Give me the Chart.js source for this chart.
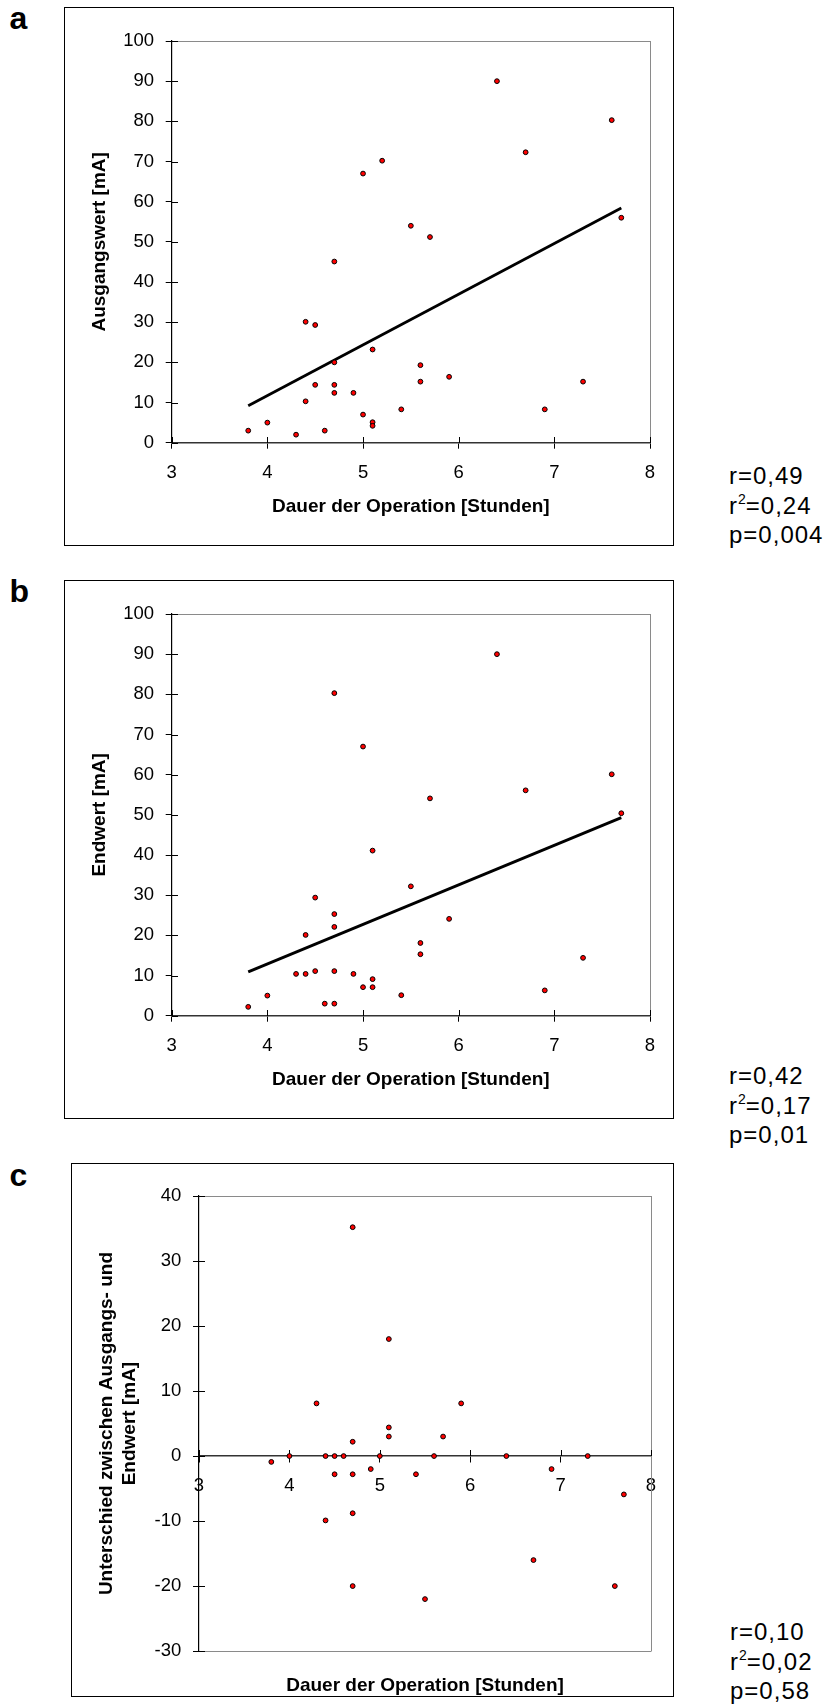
<!DOCTYPE html>
<html lang="de">
<head>
<meta charset="utf-8">
<title>Dauer der Operation – Ausgangswert, Endwert und Unterschied</title>
<script src="https://cdn.jsdelivr.net/npm/chart.js@4.4.1/dist/chart.umd.min.js"></script>
<style>
  html, body { margin: 0; padding: 0; background: #fff; }
  body { position: relative; width: 829px; height: 1706px; overflow: hidden;
         font-family: 'Liberation Sans', Arial, sans-serif; color: #000; }
  .frame { position: absolute; border: 1px solid #000; box-sizing: border-box; pointer-events: none; }
  canvas { position: absolute; }
  .tag { position: absolute; font: bold 32px/32px 'Liberation Sans', Arial, sans-serif; }
  .stats { position: absolute; font: 24px/29.5px 'Liberation Sans', Arial, sans-serif; letter-spacing: 1px; white-space: nowrap; }
  .stats .sq { font-size: 14px; position: relative; top: -9.5px; line-height: 0; letter-spacing: 0; }
</style>
</head>
<body>

<canvas id="chartA" width="610" height="539" style="left:64px;top:7px"></canvas>
<div class="frame" style="left:64px;top:7px;width:610px;height:539px"></div>
<div class="tag" style="left:9.5px;top:2px">a</div>
<div class="stats" style="left:729px;top:461px">r=0,49<br>r<span class="sq">2</span>=0,24<br>p=0,004</div>

<canvas id="chartB" width="610" height="539" style="left:64px;top:580px"></canvas>
<div class="frame" style="left:64px;top:580px;width:610px;height:539px"></div>
<div class="tag" style="left:9.5px;top:575px">b</div>
<div class="stats" style="left:729px;top:1061px">r=0,42<br>r<span class="sq">2</span>=0,17<br>p=0,01</div>

<canvas id="chartC" width="603" height="534" style="left:71px;top:1163px"></canvas>
<div class="frame" style="left:71px;top:1163px;width:603px;height:534px"></div>
<div class="tag" style="left:9.5px;top:1159px">c</div>
<div class="stats" style="left:730px;top:1617px">r=0,10<br>r<span class="sq">2</span>=0,02<br>p=0,58</div>

<script>
// Dauer der Operation [Stunden] und Ausgangswert [mA]
const dauerA = [3.8, 4.0, 4.3, 4.6, 4.4, 4.4, 4.5, 4.5, 4.7, 4.7, 4.7, 4.7, 4.9, 5.0, 5.0, 5.1,
                5.1, 5.1, 5.2, 5.4, 5.5, 5.6, 5.6, 5.7, 5.9, 6.4, 6.7, 6.9, 7.3, 7.6, 7.7];
const ausgangswert = [3, 5, 2, 3, 10.3, 30.1, 29.3, 14.4, 45.1, 20, 14.4, 12.4, 12.4, 67, 7, 23.2,
                      5.1, 4.2, 70.2, 8.3, 54, 19.3, 15.2, 51.2, 16.4, 90, 72.3, 8.3, 15.2, 80.3, 56];

// Dauer der Operation [Stunden] und Endwert [mA]
const dauerB = [3.8, 4.0, 4.3, 4.4, 4.4, 4.5, 4.5, 4.6, 4.7, 4.7, 4.7, 4.7, 4.7, 4.9, 5.0, 5.0,
                5.1, 5.1, 5.1, 5.4, 5.5, 5.6, 5.6, 5.7, 5.9, 6.4, 6.7, 6.9, 7.3, 7.6, 7.7];
const endwert = [2.2, 5, 10.4, 10.4, 20.1, 11.1, 29.4, 3, 3, 11.1, 22.1, 25.3, 80.3, 10.4, 7.1, 67,
                 7.1, 9.1, 41.1, 5.1, 32.2, 15.3, 18.1, 54.1, 24.1, 90, 56.1, 6.3, 14.4, 60.1, 50.4];

// Dauer der Operation [Stunden] und Unterschied zwischen Ausgangs- und Endwert [mA]
const dauerC = [3.8, 4.0, 4.3, 4.4, 4.4, 4.5, 4.5, 4.6, 4.7, 4.7, 4.7, 4.7, 4.7, 4.9, 5.0,
                5.1, 5.1, 5.1, 5.4, 5.5, 5.6, 5.7, 5.9, 6.4, 6.7, 6.9, 7.3, 7.6, 7.7];
const unterschied = [-0.9, 0, 8.1, 0, -9.9, 0, -2.8, 0, 35.2, 2.2, -2.8, -8.8, -20, -2, 0,
                     18, 4.4, 3, -2.8, -22, 0, 3, 8.1, 0, -16, -2, 0, -20, -5.9];

// Regressionsgeraden (Endpunkte über den Wertebereich der Dauer)
const trendDauer = [3.8, 7.7];
const trendAusgangswert = [9.2, 58.4];
const trendEndwert = [10.9, 49.3];

// Achsenteilung
const xTicks = [3, 4, 5, 6, 7, 8];
const yTicksAB = [0, 10, 20, 30, 40, 50, 60, 70, 80, 90, 100];
const yTicksC = [-30, -20, -10, 0, 10, 20, 30, 40];

const FONT = "'Liberation Sans', Arial, sans-serif";
Chart.defaults.font.family = FONT;
Chart.defaults.color = '#000';

const TICK = 6;

const pairs = (xs, ys) => xs.map((x, i) => ({ x, y: ys[i] }));

// Inner half of the crossing tick marks and the grey plot-area frame
const plotFrame = {
  id: 'plotFrame',
  beforeDatasetsDraw(chart, args, opts) {
    const { ctx, chartArea: a, scales: { x, y } } = chart;
    const L = Math.round(a.left), R = Math.round(a.right);
    const T = Math.round(a.top), B = Math.round(a.bottom);
    ctx.save();
    ctx.lineWidth = 1;
    ctx.strokeStyle = '#8a8a8a';
    ctx.beginPath();
    ctx.moveTo(L, T + 0.5); ctx.lineTo(R + 0.5, T + 0.5);
    ctx.moveTo(R + 0.5, T); ctx.lineTo(R + 0.5, B);
    if (opts.closeBottom) { ctx.moveTo(L, B + 0.5); ctx.lineTo(R + 0.5, B + 0.5); }
    ctx.stroke();

    ctx.strokeStyle = '#000';
    ctx.beginPath();
    const axisY = Math.round(y.getPixelForValue(opts.xAxisAt));
    x.ticks.forEach(t => {
      const px = Math.round(x.getPixelForValue(t.value)) + 0.5;
      ctx.moveTo(px, axisY - TICK); ctx.lineTo(px, axisY);
    });
    y.ticks.forEach(t => {
      const py = Math.round(y.getPixelForValue(t.value)) + 0.5;
      ctx.moveTo(L, py); ctx.lineTo(L + TICK, py);
    });
    ctx.stroke();
    ctx.restore();
  }
};

function pointSet(data) {
  return {
    data, order: 0,
    pointRadius: 2.4, pointHoverRadius: 2.4,
    pointBackgroundColor: '#ff0000', pointBorderColor: '#000', pointBorderWidth: 1
  };
}

function trendSet(xs, ys) {
  return {
    data: pairs(xs, ys), order: 1, showLine: true,
    borderColor: '#000', borderWidth: 2.8, pointRadius: 0, borderCapStyle: 'butt'
  };
}

function axisCommon() {
  return {
    type: 'linear',
    grid: { drawOnChartArea: false, drawTicks: true, tickLength: TICK, color: '#000', lineWidth: 1 }
  };
}

function makeChart(id, cfg) {
  const xScale = Object.assign(axisCommon(), {
    min: 3, max: 8,
    position: cfg.xPosition,
    border: { display: true, color: '#333', width: 1.5 },
    afterBuildTicks: s => { s.ticks = xTicks.map(v => ({ value: v })); },
    afterFit: s => { s.height = cfg.xHeight; },
    ticks: { padding: 12.9, font: { size: 18.5 }, color: '#000', maxRotation: 0, autoSkip: false,
             callback: v => String(v) },
    title: cfg.xTitle
      ? { display: true, text: cfg.xTitle, color: '#000', font: { size: 19, weight: 'bold' },
          padding: { top: 0, bottom: 27.6 } }
      : { display: false }
  });
  const yScale = Object.assign(axisCommon(), {
    min: cfg.yMin, max: cfg.yMax,
    position: 'left',
    border: { display: true, color: '#000', width: 1.2 },
    afterBuildTicks: s => { s.ticks = cfg.yTicks.map(v => ({ value: v })); },
    afterFit: s => { s.width = cfg.yWidth; },
    ticks: { padding: 11.7, font: { size: 18.5 }, color: '#000', autoSkip: false,
             callback: v => String(v) },
    title: { display: true, text: cfg.yTitle, color: '#000',
             font: { size: 19, weight: 'bold', lineHeight: cfg.yTitleLine },
             padding: { top: cfg.yTitlePad, bottom: 0 } }
  });

  return new Chart(document.getElementById(id), {
    type: 'scatter',
    data: { datasets: cfg.datasets },
    options: {
      responsive: false,
      animation: false,
      devicePixelRatio: 1,
      layout: { autoPadding: false, padding: cfg.padding },
      scales: { x: xScale, y: yScale },
      plugins: {
        legend: { display: false },
        tooltip: { enabled: false },
        title: cfg.bottomTitle
          ? { display: true, position: 'bottom', fullSize: false, text: cfg.bottomTitle, color: '#000',
              font: { size: 19, weight: 'bold' }, padding: { top: 23.1, bottom: 0 } }
          : { display: false },
        plotFrame: { xAxisAt: cfg.xAxisAt, closeBottom: cfg.closeBottom }
      }
    },
    plugins: [plotFrame]
  });
}

// a: Ausgangswert
makeChart('chartA', {
  datasets: [pointSet(pairs(dauerA, ausgangswert)), trendSet(trendDauer, trendAusgangswert)],
  padding: { top: 34, right: 24, left: 0, bottom: 0 },
  xPosition: 'bottom', xHeight: 103.3, xTitle: 'Dauer der Operation [Stunden]',
  yMin: 0, yMax: 100, yTicks: yTicksAB, yWidth: 107.7,
  yTitle: 'Ausgangswert [mA]', yTitleLine: 1.2, yTitlePad: 24,
  xAxisAt: 0, closeBottom: false
});

// b: Endwert
makeChart('chartB', {
  datasets: [pointSet(pairs(dauerB, endwert)), trendSet(trendDauer, trendEndwert)],
  padding: { top: 34, right: 24, left: 0, bottom: 0 },
  xPosition: 'bottom', xHeight: 103.3, xTitle: 'Dauer der Operation [Stunden]',
  yMin: 0, yMax: 100, yTicks: yTicksAB, yWidth: 107.7,
  yTitle: 'Endwert [mA]', yTitleLine: 1.2, yTitlePad: 24,
  xAxisAt: 0, closeBottom: false
});

// c: Unterschied, x-Achse bei 0
makeChart('chartC', {
  datasets: [pointSet(pairs(dauerC, unterschied))],
  padding: { top: 33, right: 23, left: 0, bottom: 0 },
  xPosition: { y: 0 }, xHeight: 25.8, xTitle: null,
  bottomTitle: 'Dauer der Operation [Stunden]',
  yMin: -30, yMax: 40, yTicks: yTicksC, yWidth: 128,
  yTitle: ['Unterschied zwischen Ausgangs- und', 'Endwert [mA]'], yTitleLine: 1.25, yTitlePad: 23.5,
  xAxisAt: 0, closeBottom: true
});
</script>
</body>
</html>
